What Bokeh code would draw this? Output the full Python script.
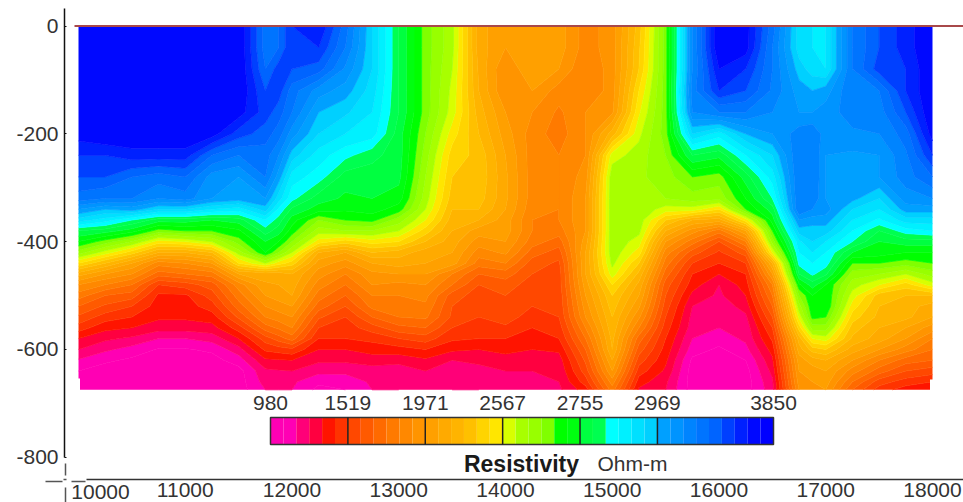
import numpy as np
from bokeh.core.properties import value
from bokeh.embed import file_html
from bokeh.models import FixedTicker, Range1d
from bokeh.plotting import figure
from bokeh.resources import INLINE

# Stations along the profile and depth rows (m)
stations = [10000, 10250, 10500, 10750, 11000, 11250, 11500, 11750, 11875, 12000, 12250, 12500, 12750, 13000,
            13250, 13500, 13750, 14000, 14250, 14500, 14750, 15000, 15250, 15500, 15750, 16000, 16250,
            16500, 16750, 16875, 17000, 17250, 17500, 17750, 18000]
depths = [0, -40, -80, -120, -160, -200, -240, -280, -320] + list(range(-340, -661, -20)) + [-675]

# Colour-class reading of the section at each station, top to bottom
# (0 = lowest class on the colour scale, 38 = highest)
c10000 = [38,38,38,38,38,37.5,36,35,33.5,31,28.5,25,23,20.5,17,13.5,11,9.5,8,6.8,5.5,4,3,1.9,1,.5,.5]
c10250 = [38,38,38,38,38,38,36,35,33,30,27.5,24.5,21.5,18.5,15,12,10,8,6.8,5.5,4.3,3.2,2.2,1.2,.5,.5,.5]
c10500 = [38,38,38,38,38,38,36.5,34,33,30.5,26,23.5,20,16.5,13,11,9,7.5,6,5,4,2.8,1.6,.8,.5,.5,.5]
c10750 = [38,38,38,38,38,38,36.5,33.5,32,29,24.5,21.5,17.5,14,10.5,8.5,6,4.8,4.5,4.2,3.4,2,.9,.5,.5,.5,.5]
c11000 = [38,38,38,38,38,38,36.5,34,32.5,29,24.5,22,18,14,11,9,6.5,4.8,4.5,4.2,3.4,2,.9,.5,.5,.5,.5]
c11250 = [38,38,38,38,38,37.5,34,31.5,31,28,24,22,19,15,12,9.5,7.5,6.5,5.5,4.5,3.6,2.4,1.2,.6,.5,.5,.5]
c11500 = [38,38,38,38,37.5,35.5,33,31,30.5,27.5,24.5,22.8,21.5,19.5,17,13,10.5,9.5,8.5,7.2,5.5,4,2.6,1.5,.6,.5,.5]
c11750 = [33.5,33.5,34,35,35.5,34.5,33.5,33,31,29.5,27,25.5,24,23,19,13.5,12.8,12,11,10,8.5,6.5,5.2,3.8,2.8,2.4,2]
c11875 = [34,34,35.5,35.5,34.5,33.5,32,30.5,28.5,26.8,25.5,24.5,23,21,17.5,13.5,13,12.5,11.5,10.5,9.2,7.5,5.5,3.9,2.9,2.3,2]
c12000 = [36,36,35,33.5,33,31.5,29.5,27.5,26.3,24.8,23.5,22.5,21,19,16.5,14,13.5,13,12,11,10,8.5,5.8,4,3,2.2,2]
c12250 = [37,36,34.5,31.5,30,29,27.5,26.5,24.5,23.5,21,19.5,17.5,14,12.5,11.5,10.5,9.5,8.5,7.2,6,5,4,3.2,2.3,1.2,.7]
c12500 = [33.5,33,31.8,30.5,29.2,28,26.3,24.5,23.8,23.2,22,20,16.5,13,11.5,10,9,8,7,6,5.5,5,4,3.2,2.3,1.3,1]
c12750 = [29,29,29,28.5,28,27.5,25.3,24.5,24,23.5,22.3,20,17.5,15,13,11.7,11,10,9.3,8,6.5,5.3,4.4,3.5,2.5,2.2,2]
c13000 = [25,25,25,25,25,24.5,24.5,24.3,23.5,22.5,20.5,19,17,14.5,13.5,12,10.7,10,9.5,9,7.7,6,4.6,3.3,2.5,2.2,2]
c13250 = [21.5,21.5,21.5,21.5,21.5,21,20.5,20,19.5,19,18,16.5,15,13.5,13,12,11,10.3,9.8,9.2,8,6.5,5,3.8,3,2.3,2.1]
c13500 = [19.3,19.3,19,18.7,18.5,17.5,16.5,16,15.5,15,14.5,14,13.5,13,12.5,10,9,7.5,7,6.8,6,5.2,4.2,3,2.5,2.2,2]
c13750 = [13.5,13.5,13.8,14,14.5,15,15.7,15.8,15.5,15,14,12.5,11.5,10.5,9.5,8,7,6.5,6.2,6,5.5,5,4,3.2,2.7,2.3,2]
c14000 = [12,12,11,11,12,12.5,13,13.2,13.2,13,12.5,12.5,12,11.2,10,8.5,7.5,7,7,6.5,5.8,5,4.3,3.6,3,2.5,2.2]
c14250 = [13,13,13,12,11,10.5,10.5,10.5,10.5,10.3,10,10,9.5,8.5,7.5,7,6.5,6.3,6,5.5,5,4.5,4,3.5,3,2.6,2.4]
c14500 = [12.5,12.5,12,10.5,9.8,9.5,10,10,10,10,10,9.5,8.5,7.5,6.8,6.5,6.5,6.3,6.2,6,5.5,5,4.2,3.5,3.2,3,2.8]
c14750 = [10.5,10.5,10,10,11,11,11,11.5,12,12,12,12,12.5,13,13,13,12.5,12,11.5,11,10,9,8,7.2,6.5,5.5,4.5]
c15000 = [11.5,11.5,11.5,11.5,11.8,14.5,18.5,19.7,19.8,19.8,19.8,19.8,19.8,19.7,19.3,18.5,17,16,15.5,15,14.7,14.3,14,13,12,10.5,9.5]
c15250 = [15.5,15.8,16,17,17.8,18.7,19.5,19.8,19.8,19.8,19.6,19.3,18.5,17.5,16,14.7,13.7,13,12.2,11.2,10,8.5,7.5,6.5,5.5,4.5,3.8]
c15500 = [21.5,21.5,21.5,21.5,21.5,21.5,21,20.5,20,18.5,16,14,12,10.5,9.5,8.5,7.5,7,6.5,6,5.5,5,4.6,4.2,3.8,3.2,3]
c15750 = [32,32,32,32.5,32,29,25,22,20.5,18.5,14,11.5,9.5,7.5,6,5,4.5,3.7,3,2.7,2.5,2,1.5,.8,.5,.5,.5]
c16000 = [38,38,37,36,33,27.5,24.3,21.5,20.3,17,13.5,9.5,7,5.8,5,4,3,2.8,2.4,2,2,1.5,.8,.5,.5,.5,.5]
c16250 = [37.5,37.5,36,35,33,30,27,24.5,23,22,17.5,13,10,7.5,6,5,4.5,4,3.4,2.8,2.4,2.2,1.7,1,.6,.5,.5]
c16500 = [33.5,33,33,32.8,32,31,29,27.5,26,24.5,23.5,22,20.5,18,14,12,10,9,8,7,6,5.2,4.4,3.8,3.3,2.8,2.6]
c16750 = [28.5,28.5,29.5,30.5,31,32.5,33,33,33,33,31,29.5,27.8,27,26.3,25,22.8,21,19.6,18.3,16.5,14.5,13.5,12.5,12,11.5,11]
c16875 = [28,28,28.5,30,31,32.8,33,33,32.8,32,30.5,29.5,29,28,27,26.2,24.5,23,22.8,22.3,20.5,18,15.5,13.5,12.5,12,11.5]
c17000 = [28,28,28,30.5,31.5,31.5,31,31,31,31.5,30.5,29.5,28,27,26.5,25.2,23,23,23,22,20.5,18.5,16,14,13,12.5,12]
c17250 = [33,33,33,33,32.5,31.8,30.8,30.5,30.3,29,28,27,26,24,22,20.5,19.5,18.5,17.5,16.5,15.5,14.8,13.5,12,10.5,9,8]
c17500 = [35,35,35.5,33,32.5,32,31,31,29,28,26.8,25,24,23.5,22,20,18,15.5,15,14.7,14,13.5,12,10,8.5,6.5,5.5]
c17750 = [36.5,36.5,36,36,35,33.5,32.8,32.5,31.5,30.5,28.5,26.5,24.5,23,21.5,19,16.5,15,14.5,14.3,13,12,10.5,8.5,7,5.5,4.5]
c18000 = [38,38,38,38,38,37.5,36,34,32,30.5,28.5,27,24.5,23,22,20.5,18.5,15,13.5,13,11.5,10,9,8,6.5,5,4]

columns = [c10000, c10250, c10500, c10750, c11000, c11250, c11500, c11750, c11875, c12000, c12250, c12500,
           c12750, c13000, c13250, c13500, c13750, c14000, c14250, c14500, c14750, c15000, c15250,
           c15500, c15750, c16000, c16250, c16500, c16750, c16875, c17000, c17250, c17500, c17750, c18000]

palette = ["#FF00B4", "#FF00B4", "#FF0078", "#FF0040", "#FF1400", "#FF3300", "#FF4800", "#FF5A00",
           "#FF6A00", "#FF7A00", "#FF8800", "#FF9400", "#FFA000", "#FFAA00", "#FFB400", "#FFC000",
           "#FFD400", "#FFE600", "#D8FF00", "#A8FF00", "#98FF00", "#80FF00", "#00FF00", "#00FF10",
           "#00FF40", "#00FF50", "#00FFFF", "#00F0FF", "#00E0FF", "#00D0FF", "#00A0FF", "#0094FF",
           "#0084FF", "#0074FF", "#0064FF", "#0040FF", "#0020FF", "#0008FF", "#0000FF"]

scale_labels = ["980", "1519", "1971", "2567", "2755", "2969", "3850"]
scale_label_class = [0, 6, 12, 18, 24, 30, 39]
y_ticks = [0, -200, -400, -600, -800]
y_tick_labels = ["0", "-200", "-400", "-600", "-800"]
x_ticks = [11000, 12000, 13000, 14000, 15000, 16000, 17000, 18000]

# pixel <-> data helpers (pixels of the reference picture)
PX_PER_X = 0.10675
PX_PER_Y = 0.539
def X(px):
    return 10000 + (px - 78) / PX_PER_X
def Y(py):
    return -(py - 25.5) / PX_PER_Y

p = figure(width=963, height=502, output_backend="svg", toolbar_location=None,
           x_range=Range1d(X(0), X(963)), y_range=Range1d(Y(502), Y(0)),
           min_border=0, min_border_left=0, min_border_right=0, min_border_top=0, min_border_bottom=0,
           background_fill_color="white", border_fill_color="white", outline_line_color=None)
p.grid.visible = False

# Section
z = np.array(columns, dtype=float).T[::-1]
p.contour(stations, depths[::-1], z, levels=list(range(40)), fill_color=palette,
          line_color=palette + [palette[-1]], line_width=0.8)

# Small steps at the section's lower corners
p.quad(left=[X(76), X(929.5)], right=[X(79.5), X(934)], top=[Y(378), Y(379)], bottom=[Y(391), Y(391)],
       fill_color="white", line_color=None)

# Surface line
p.line([X(74), X(963)], [0, 0], line_color="#A8484A", line_width=2)

# Axes drawn in the frame at a fixed place
ya = p.yaxis[0]
ya.fixed_location = X(64)
ya.bounds = (-800, Y(8))
ya.ticker = FixedTicker(ticks=y_ticks)
ya.major_label_overrides = {t: s for t, s in zip(y_ticks, y_tick_labels)}
ya.major_tick_in = 2
ya.major_tick_out = 0
ya.minor_tick_line_color = None
ya.major_label_text_font = "Liberation Sans"
ya.major_label_text_font_size = "21px"
ya.major_label_text_color = "#333333"
ya.major_label_standoff = 6
ya.axis_line_color = "#111111"
ya.axis_line_width = 1.5
ya.major_tick_line_color = "#111111"

xa = p.xaxis[0]
xa.fixed_location = Y(479)
xa.bounds = (X(86), X(963))
xa.ticker = FixedTicker(ticks=x_ticks)
xa.major_tick_in = 0
xa.major_tick_out = 0
xa.minor_tick_line_color = None
xa.major_label_text_font = "Liberation Sans"
xa.major_label_text_font_size = "21px"
xa.major_label_text_color = "#333333"
xa.major_label_standoff = 3
xa.axis_line_color = "#333333"
xa.axis_line_width = 1.5

# Loose axis pieces at the corner
for (x0, y0, x1, y1) in [(65, 463, 65, 475), (63, 479, 66, 479), (45, 481, 62, 481),
                         (71, 481, 85, 481), (65, 487, 65, 502)]:
    p.segment(X(x0), Y(y0), X(x1), Y(y1), line_color="#555555", line_width=1.5)
p.text([X(100)], [Y(491)], text=["10000"], text_font=value("Liberation Sans"), text_font_size="21px",
       text_color="#333333", text_align="center", text_baseline="middle")

# Colour scale
n = len(palette)
bar_l, bar_r = 270, 773
seg = (bar_r - bar_l) / n
left = [X(bar_l + i * seg) for i in range(n)]
right = [X(bar_l + (i + 1) * seg) for i in range(n)]
p.quad(left=left, right=right, top=Y(417), bottom=Y(444), fill_color=palette, line_color=None)
p.quad(left=X(bar_l), right=X(bar_r), top=Y(417), bottom=Y(444), fill_color=None,
       line_color="#333333", line_width=1.5)
sep = [X(bar_l + c * seg) for c in scale_label_class[1:-1]]
p.segment(sep, Y(417), sep, Y(444), line_color="#222222", line_width=1.5)
p.text([X(bar_l + c * seg) for c in scale_label_class], Y(402.5), text=scale_labels,
       text_font=value("Liberation Sans"), text_font_size="21px", text_color="#333333",
       text_align="center", text_baseline="middle")
p.text([X(521)], [Y(463)], text=["Resistivity"], text_font=value("Liberation Sans"),
       text_font_size="23px", text_font_style="bold", text_color="#1a1a1a",
       text_align="center", text_baseline="middle")
p.text([X(632)], [Y(463)], text=["Ohm-m"], text_font=value("Liberation Sans"), text_font_size="21px",
       text_color="#333333", text_align="center", text_baseline="middle")

open("out.html", "w").write(file_html(p, INLINE))
